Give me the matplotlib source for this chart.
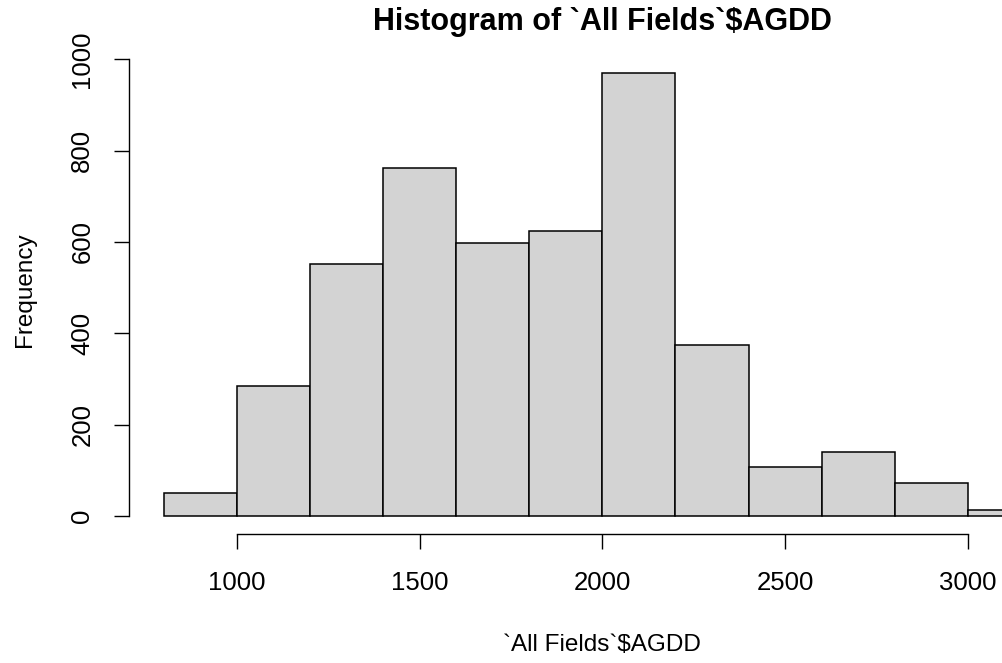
import matplotlib
matplotlib.use("Agg")
import matplotlib.pyplot as plt
import numpy as np

bin_edges = [800, 1000, 1200, 1400, 1600, 1800, 2000, 2200, 2400, 2600, 2800, 3000, 3200]
counts = [51, 285, 551, 763, 597, 623, 971, 374, 107, 139, 72, 13]
x_ticks = [1000, 1500, 2000, 2500, 3000]
y_ticks = [0, 200, 400, 600, 800, 1000]
title = "Histogram of `All Fields`$AGDD"
xlabel = "`All Fields`$AGDD"
ylabel = "Frequency"

plt.rcParams['font.family'] = ['Liberation Sans', 'DejaVu Sans']

W, H = 1002, 663
fig = plt.figure(figsize=(W / 100, H / 100), dpi=100)
# axes in pixel coords: left 128.8, right 1076, top 54.8, bottom 533.7
l, r, t, b = 128.8, 1076.0, 54.8, 533.7
ax = fig.add_axes([l / W, (H - b) / H, (r - l) / W, (b - t) / H])

lefts = np.array(bin_edges[:-1])
widths = np.diff(bin_edges)
ax.bar(lefts, counts, width=widths, align='edge', color='#d3d3d3',
       edgecolor='black', linewidth=1.1)

xmin, xmax = bin_edges[0], bin_edges[-1]
xr = xmax - xmin
ax.set_xlim(xmin - 0.04 * xr, xmax + 0.04 * xr)
ymax = max(counts)
ax.set_ylim(-0.04 * ymax, ymax * 1.04)

for s in ['top', 'right']:
    ax.spines[s].set_visible(False)
ax.spines['left'].set_bounds(y_ticks[0], y_ticks[-1])
ax.spines['bottom'].set_bounds(x_ticks[0], x_ticks[-1])
ax.spines['left'].set_linewidth(1.0)
ax.spines['bottom'].set_linewidth(1.0)

ax.set_xticks(x_ticks)
ax.set_yticks(y_ticks)
ax.set_xticklabels([str(v) for v in x_ticks], fontsize=18.5)
ax.set_yticklabels([str(v) for v in y_ticks], fontsize=18.5, rotation=90, va='center')
ax.tick_params(axis='both', direction='out', length=10.8, width=1.0)
ax.tick_params(axis='x', pad=16)
ax.tick_params(axis='y', pad=14)

fig.text(602 / W, 1 - 22 / H, title, fontsize=22, fontweight='bold', ha='center', va='center')
fig.text(602 / W, 1 - 645 / H, xlabel, fontsize=17.5, ha='center', va='center')
fig.text(25 / W, 1 - 290 / H, ylabel, fontsize=17.5, ha='center', va='center', rotation=90)

fig.savefig("out.png", dpi=100)
